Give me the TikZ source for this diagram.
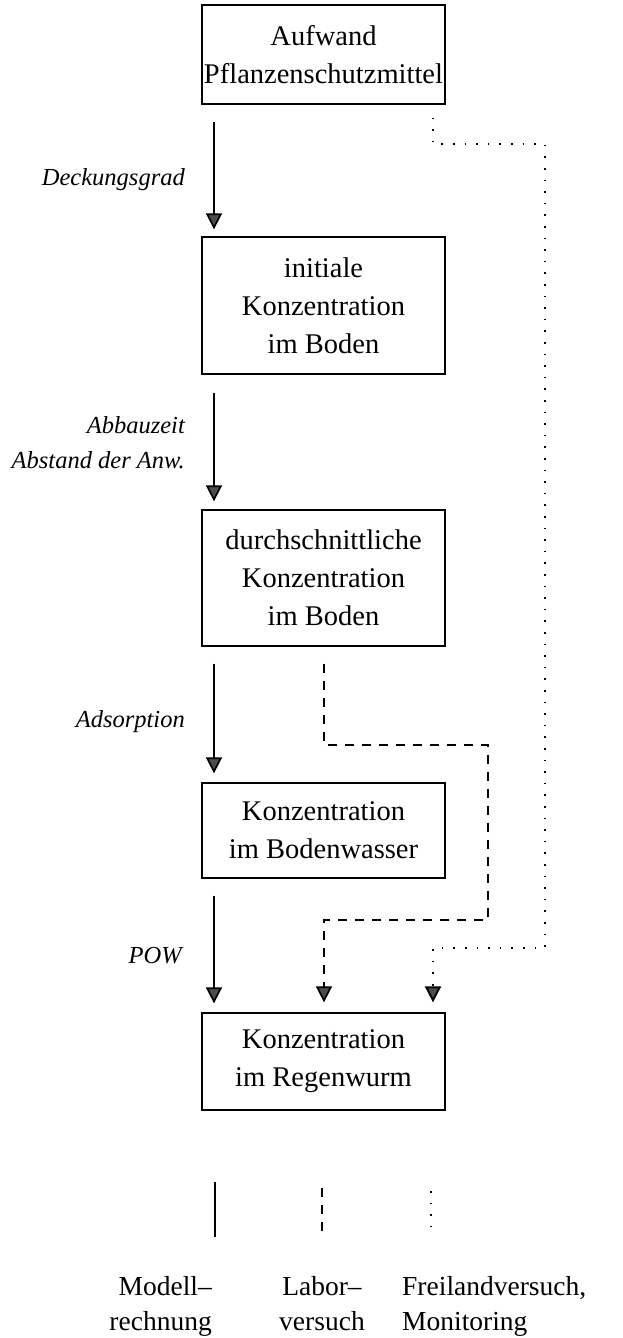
\documentclass[tikz,border=0pt]{standalone}
\usepackage{fontspec}
\setmainfont{Liberation Serif}
\usetikzlibrary{arrows.meta,calc}
\begin{document}
\begin{tikzpicture}[x=1pt,y=-1pt,
  box/.style={draw=black,line width=1.3pt,minimum width=243pt,inner sep=0pt,align=center,
    font=\fontsize{28.5}{38}\selectfont},
  lbl/.style={font=\fontsize{24.5}{35}\selectfont\itshape,anchor=base east,inner sep=0pt},
  leg/.style={font=\fontsize{27.5}{35}\selectfont,inner sep=0pt},
  tipA/.style={-{Triangle[width=16pt,length=16pt,fill=black!70]}},
  solidln/.style={line width=1.7pt},
  dashln/.style={line width=1.7pt,dash pattern=on 9pt off 8pt},
  dotln/.style={line width=1.9pt,dash pattern=on 1.6pt off 10pt},
]
\useasboundingbox (0,0) rectangle (622,1338);
\coordinate (c1) at (214,0);
\coordinate (c2) at (324,0);
\coordinate (c3) at (433,0);

\node[box,minimum height=99pt]  (b1) at (323.5,54.5) {Aufwand\\Pflanzenschutzmittel};
\node[box,minimum height=137pt] (b2) at (323.5,305.5) {initiale\\Konzentration\\im Boden};
\node[box,minimum height=136pt] (b3) at (323.5,578) {durchschnittliche\\Konzentration\\im Boden};
\node[box,minimum height=95pt]  (b4) at (323.5,830.5) {Konzentration\\im Bodenwasser};
\node[box,minimum height=97pt]  (b5) at (323.5,1061.5) {Konzentration\\im Regenwurm};

% solid arrows
\draw[solidln,tipA] ([yshift=-17pt]b1.south -| c1) -- ([yshift=7pt]b2.north -| c1);
\draw[solidln,tipA] ([yshift=-18pt]b2.south -| c1) -- ([yshift=8pt]b3.north -| c1);
\draw[solidln,tipA] ([yshift=-17pt]b3.south -| c1) -- ([yshift=9pt]b4.north -| c1);
\draw[solidln,tipA] ([yshift=-17pt]b4.south -| c1) -- ([yshift=9pt]b5.north -| c1);

% labels
\node[lbl] (l1) at (185,185) {Deckungsgrad};
\node[lbl] (l2) at (185,433) {Abbauzeit};
\node[lbl] (l3) at (185,468) {Abstand der Anw.};
\node[lbl] (l4) at (185,727) {Adsorption};
\node[lbl] (l5) at (182,963) {POW};

% dashed path
\coordinate (d1) at (488,745);
\coordinate (d2) at (488,920);
\draw[dashln,tipA] ([yshift=-17pt]b3.south -| c2) |- (d1) -- (d2) -| ([yshift=10pt]b5.north -| c2);

% dotted path
\coordinate (p1) at (545,144);
\coordinate (p2) at (545,948);
\draw[dotln,tipA] ([yshift=-13pt]b1.south -| c3) |- (p1) -- (p2) -| ([yshift=10pt]b5.north -| c3);

% legend
\coordinate (g1a) at (215,1182); \coordinate (g1b) at (215,1237);
\coordinate (g2a) at (322,1188); \coordinate (g2b) at (322,1237);
\coordinate (g3a) at (431,1191); \coordinate (g3b) at (431,1237);
\draw[solidln] (g1a) -- (g1b);
\draw[dashln] (g2a) -- (g2b);
\draw[dotln] (g3a) -- (g3b);

\node[leg,anchor=base east] (m1) at (212,1295) {Modell--};
\node[leg,anchor=base east] (m2) at (212,1330) {rechnung};
\node[leg,anchor=base] (n1) at (322,1295) {Labor--};
\node[leg,anchor=base] (n2) at (322,1330) {versuch};
\node[leg,anchor=base west] (o1) at (402,1295) {Freilandversuch,};
\node[leg,anchor=base west] (o2) at (402,1330) {Monitoring};
\end{tikzpicture}
\end{document}
